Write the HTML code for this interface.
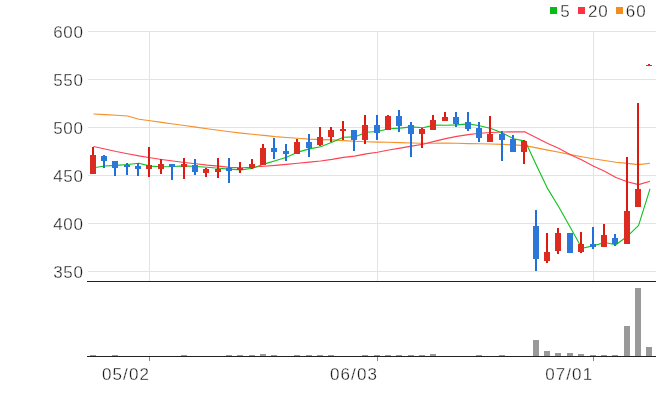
<!DOCTYPE html>
<html><head><meta charset="utf-8"><title>chart</title>
<style>
html,body{margin:0;padding:0;background:#fff}
body{width:658px;height:408px;overflow:hidden}
svg{display:block}
text{font-family:"Liberation Sans",sans-serif;font-size:17px;fill:#1c1c1c;stroke:#fff;stroke-width:0.3px}
</style></head><body>
<svg width="658" height="408" viewBox="0 0 658 408">
<rect width="658" height="408" fill="#fff"/>
<g shape-rendering="crispEdges" fill="#e0e4e9">
<rect x="88" y="31" width="568" height="1"/>
<rect x="88" y="79" width="568" height="1"/>
<rect x="88" y="127" width="568" height="1"/>
<rect x="88" y="175" width="568" height="1"/>
<rect x="88" y="223" width="568" height="1"/>
<rect x="88" y="271" width="568" height="1"/>
<rect x="149" y="31" width="1" height="250"/>
<rect x="377" y="31" width="1" height="250"/>
<rect x="593" y="31" width="1" height="250"/>
</g>
<polyline fill="none" stroke="#f5902a" stroke-width="1.1" stroke-linejoin="round" points="93.5,114.0 104.9,114.6 116.2,115.3 127.6,116.0 138.9,119.2 150.3,120.8 161.6,122.4 173.0,124.0 184.4,125.5 195.7,127.1 207.1,128.7 218.4,130.3 229.8,131.7 241.1,133.1 252.5,134.3 263.9,135.4 275.2,136.6 286.6,137.5 297.9,138.3 309.3,139.1 320.6,139.6 332.0,139.9 343.4,140.6 354.7,141.2 366.1,141.7 377.4,142.1 388.8,142.3 400.1,142.6 411.5,143.0 422.9,143.3 434.2,143.2 445.6,143.1 456.9,143.2 468.3,143.6 479.6,143.8 491.0,144.0 502.4,144.4 513.7,144.9 525.1,145.6 536.4,147.9 547.8,150.1 559.1,152.3 570.5,154.6 581.9,156.7 593.2,158.8 604.6,160.5 615.9,162.2 627.3,163.4 638.6,164.6 650.0,163.2"/>
<polyline fill="none" stroke="#ff4052" stroke-width="1.1" stroke-linejoin="round" points="93.5,146.5 104.9,149.0 116.2,151.5 127.6,153.7 138.9,155.9 150.3,157.8 161.6,159.5 173.0,161.0 184.4,162.5 195.7,163.8 207.1,165.1 218.4,166.1 229.8,167.4 241.1,167.7 252.5,167.2 263.9,166.2 275.2,165.4 286.6,164.4 297.9,163.2 309.3,162.1 320.6,161.0 332.0,159.4 343.4,157.4 354.7,156.1 366.1,153.9 377.4,152.2 388.8,150.0 400.1,148.1 411.5,146.1 422.9,144.3 434.2,141.4 445.6,138.6 456.9,136.4 468.3,134.6 479.6,133.3 491.0,132.5 502.4,132.0 513.7,131.8 525.1,131.9 536.4,137.7 547.8,143.4 559.1,148.6 570.5,154.8 581.9,159.9 593.2,166.1 604.6,171.2 615.9,177.6 627.3,181.8 638.6,184.6 650.0,181.3"/>
<polyline fill="none" stroke="#0cc21c" stroke-width="1.1" stroke-linejoin="round" points="93.5,167.8 104.9,166.0 116.2,165.4 127.6,164.5 138.9,163.3 150.3,166.1 161.6,166.7 173.0,166.5 184.4,165.9 195.7,166.5 207.1,167.3 218.4,168.3 229.8,169.1 241.1,169.9 252.5,168.3 263.9,164.1 275.2,160.7 286.6,157.3 297.9,152.1 309.3,148.9 320.6,146.7 332.0,142.3 343.4,137.3 354.7,136.9 366.1,132.3 377.4,131.5 388.8,128.7 400.1,128.1 411.5,126.9 422.9,127.7 434.2,125.1 445.6,125.3 456.9,124.9 468.3,123.9 479.6,125.7 491.0,128.5 502.4,133.1 513.7,138.7 525.1,141.1 536.4,165.3 547.8,188.9 559.1,207.5 570.5,227.7 581.9,248.3 593.2,245.9 604.6,242.5 615.9,244.7 627.3,236.3 638.6,225.3 650.0,188.9"/>
<g shape-rendering="crispEdges">
<rect x="92" y="147" width="2" height="27" fill="#de1a10"/><rect x="90" y="155" width="6" height="19" fill="#dc2c22"/>
<rect x="103" y="155" width="2" height="13" fill="#2070dc"/><rect x="101" y="156" width="6" height="5" fill="#2c78d8"/>
<rect x="114" y="161" width="2" height="15" fill="#2070dc"/><rect x="112" y="161" width="6" height="7" fill="#2c78d8"/>
<rect x="126" y="163" width="2" height="12" fill="#2070dc"/><rect x="124" y="165" width="6" height="2" fill="#2c78d8"/>
<rect x="137" y="163" width="2" height="13" fill="#2070dc"/><rect x="135" y="166" width="6" height="3" fill="#2c78d8"/>
<rect x="148" y="147" width="2" height="30" fill="#de1a10"/><rect x="146" y="165" width="6" height="4" fill="#dc2c22"/>
<rect x="160" y="159" width="2" height="15" fill="#de1a10"/><rect x="158" y="164" width="6" height="5" fill="#dc2c22"/>
<rect x="171" y="164" width="2" height="16" fill="#2070dc"/><rect x="169" y="164" width="6" height="3" fill="#2c78d8"/>
<rect x="183" y="158" width="2" height="21" fill="#de1a10"/><rect x="181" y="164" width="6" height="3" fill="#dc2c22"/>
<rect x="194" y="159" width="2" height="16" fill="#2070dc"/><rect x="192" y="165" width="6" height="7" fill="#2c78d8"/>
<rect x="205" y="168" width="2" height="9" fill="#de1a10"/><rect x="203" y="169" width="6" height="4" fill="#dc2c22"/>
<rect x="217" y="158" width="2" height="20" fill="#de1a10"/><rect x="215" y="169" width="6" height="3" fill="#dc2c22"/>
<rect x="228" y="158" width="2" height="25" fill="#2070dc"/><rect x="226" y="168" width="6" height="3" fill="#2c78d8"/>
<rect x="239" y="162" width="2" height="11" fill="#de1a10"/><rect x="237" y="168" width="6" height="2" fill="#dc2c22"/>
<rect x="251" y="159" width="2" height="10" fill="#de1a10"/><rect x="249" y="164" width="6" height="4" fill="#dc2c22"/>
<rect x="262" y="144" width="2" height="21" fill="#de1a10"/><rect x="260" y="148" width="6" height="17" fill="#dc2c22"/>
<rect x="273" y="138" width="2" height="21" fill="#2070dc"/><rect x="271" y="148" width="6" height="4" fill="#2c78d8"/>
<rect x="285" y="144" width="2" height="17" fill="#2070dc"/><rect x="283" y="151" width="6" height="3" fill="#2c78d8"/>
<rect x="296" y="139" width="2" height="15" fill="#de1a10"/><rect x="294" y="142" width="6" height="12" fill="#dc2c22"/>
<rect x="308" y="134" width="2" height="23" fill="#2070dc"/><rect x="306" y="142" width="6" height="6" fill="#2c78d8"/>
<rect x="319" y="127" width="2" height="19" fill="#de1a10"/><rect x="317" y="137" width="6" height="8" fill="#dc2c22"/>
<rect x="330" y="127" width="2" height="15" fill="#de1a10"/><rect x="328" y="130" width="6" height="7" fill="#dc2c22"/>
<rect x="342" y="121" width="2" height="19" fill="#de1a10"/><rect x="340" y="129" width="6" height="2" fill="#dc2c22"/>
<rect x="353" y="130" width="2" height="21" fill="#2070dc"/><rect x="351" y="130" width="6" height="10" fill="#2c78d8"/>
<rect x="364" y="115" width="2" height="29" fill="#de1a10"/><rect x="362" y="125" width="6" height="15" fill="#dc2c22"/>
<rect x="376" y="115" width="2" height="25" fill="#2070dc"/><rect x="374" y="125" width="6" height="8" fill="#2c78d8"/>
<rect x="387" y="115" width="2" height="15" fill="#de1a10"/><rect x="385" y="116" width="6" height="14" fill="#dc2c22"/>
<rect x="398" y="110" width="2" height="22" fill="#2070dc"/><rect x="396" y="116" width="6" height="10" fill="#2c78d8"/>
<rect x="410" y="122" width="2" height="35" fill="#2070dc"/><rect x="408" y="125" width="6" height="9" fill="#2c78d8"/>
<rect x="421" y="128" width="2" height="20" fill="#de1a10"/><rect x="419" y="129" width="6" height="5" fill="#dc2c22"/>
<rect x="432" y="115" width="2" height="15" fill="#de1a10"/><rect x="430" y="120" width="6" height="10" fill="#dc2c22"/>
<rect x="444" y="112" width="2" height="9" fill="#de1a10"/><rect x="442" y="117" width="6" height="4" fill="#dc2c22"/>
<rect x="455" y="112" width="2" height="15" fill="#2070dc"/><rect x="453" y="117" width="6" height="7" fill="#2c78d8"/>
<rect x="467" y="112" width="2" height="19" fill="#2070dc"/><rect x="465" y="122" width="6" height="7" fill="#2c78d8"/>
<rect x="478" y="122" width="2" height="20" fill="#2070dc"/><rect x="476" y="128" width="6" height="10" fill="#2c78d8"/>
<rect x="489" y="116" width="2" height="26" fill="#de1a10"/><rect x="487" y="134" width="6" height="8" fill="#dc2c22"/>
<rect x="501" y="131" width="2" height="30" fill="#2070dc"/><rect x="499" y="134" width="6" height="6" fill="#2c78d8"/>
<rect x="512" y="135" width="2" height="17" fill="#2070dc"/><rect x="510" y="139" width="6" height="13" fill="#2c78d8"/>
<rect x="523" y="140" width="2" height="24" fill="#de1a10"/><rect x="521" y="141" width="6" height="11" fill="#dc2c22"/>
<rect x="535" y="210" width="2" height="61" fill="#2070dc"/><rect x="533" y="226" width="6" height="33" fill="#2c78d8"/>
<rect x="546" y="233" width="2" height="30" fill="#de1a10"/><rect x="544" y="252" width="6" height="9" fill="#dc2c22"/>
<rect x="557" y="228" width="2" height="26" fill="#de1a10"/><rect x="555" y="233" width="6" height="18" fill="#dc2c22"/>
<rect x="569" y="233" width="2" height="20" fill="#2070dc"/><rect x="567" y="233" width="6" height="20" fill="#2c78d8"/>
<rect x="580" y="232" width="2" height="21" fill="#de1a10"/><rect x="578" y="244" width="6" height="8" fill="#dc2c22"/>
<rect x="592" y="227" width="2" height="22" fill="#2070dc"/><rect x="590" y="244" width="6" height="3" fill="#2c78d8"/>
<rect x="603" y="224" width="2" height="23" fill="#de1a10"/><rect x="601" y="235" width="6" height="12" fill="#dc2c22"/>
<rect x="614" y="234" width="2" height="12" fill="#2070dc"/><rect x="612" y="238" width="6" height="6" fill="#2c78d8"/>
<rect x="626" y="157" width="2" height="87" fill="#de1a10"/><rect x="624" y="211" width="6" height="33" fill="#dc2c22"/>
<rect x="637" y="103" width="2" height="104" fill="#de1a10"/><rect x="635" y="189" width="6" height="18" fill="#dc2c22"/>
<rect x="648" y="64" width="2" height="2" fill="#de1a10"/><rect x="646" y="65" width="6" height="1" fill="#dc2c22"/>
</g>
<g shape-rendering="crispEdges" fill="#999">
<rect x="90" y="355" width="6" height="1"/>
<rect x="112" y="355" width="6" height="1"/>
<rect x="181" y="355" width="6" height="1"/>
<rect x="226" y="355" width="6" height="1"/>
<rect x="237" y="355" width="6" height="1"/>
<rect x="249" y="355" width="6" height="1"/>
<rect x="260" y="354" width="6" height="2"/>
<rect x="271" y="355" width="6" height="1"/>
<rect x="294" y="355" width="6" height="1"/>
<rect x="306" y="355" width="6" height="1"/>
<rect x="317" y="355" width="6" height="1"/>
<rect x="328" y="355" width="6" height="1"/>
<rect x="362" y="355" width="6" height="1"/>
<rect x="374" y="355" width="6" height="1"/>
<rect x="385" y="355" width="6" height="1"/>
<rect x="396" y="355" width="6" height="1"/>
<rect x="408" y="355" width="6" height="1"/>
<rect x="419" y="355" width="6" height="1"/>
<rect x="430" y="354" width="6" height="2"/>
<rect x="476" y="355" width="6" height="1"/>
<rect x="499" y="355" width="6" height="1"/>
<rect x="533" y="340" width="6" height="16"/>
<rect x="544" y="351" width="6" height="5"/>
<rect x="555" y="353" width="6" height="3"/>
<rect x="567" y="353" width="6" height="3"/>
<rect x="578" y="354" width="6" height="2"/>
<rect x="590" y="355" width="6" height="1"/>
<rect x="601" y="355" width="6" height="1"/>
<rect x="612" y="355" width="6" height="1"/>
<rect x="624" y="326" width="6" height="30"/>
<rect x="635" y="288" width="6" height="68"/>
<rect x="646" y="347" width="6" height="9"/>
</g>
<g shape-rendering="crispEdges"><rect x="87" y="281" width="569" height="1" fill="#222"/><rect x="87" y="356" width="569" height="1" fill="#222"/>
<rect x="149" y="357" width="1" height="4" fill="#888"/>
<rect x="377" y="357" width="1" height="4" fill="#888"/>
<rect x="593" y="357" width="1" height="4" fill="#888"/>
</g>
<text x="53.2" y="38.2" style="letter-spacing:0.7px">600</text>
<text x="53.2" y="86.2" style="letter-spacing:0.7px">550</text>
<text x="53.2" y="134.2" style="letter-spacing:0.7px">500</text>
<text x="53.2" y="182.2" style="letter-spacing:0.7px">450</text>
<text x="53.2" y="230.2" style="letter-spacing:0.7px">400</text>
<text x="53.2" y="278.2" style="letter-spacing:0.7px">350</text>
<text x="102.0" y="380" style="font-size:17px;letter-spacing:1.1px">05/02</text>
<text x="330.0" y="380" style="font-size:17px;letter-spacing:1.1px">06/03</text>
<text x="545.2" y="380" style="font-size:17px;letter-spacing:1.1px">07/01</text>
<rect x="550" y="7" width="7" height="7" fill="#05bd14" shape-rendering="crispEdges"/><text x="560.2" y="17">5</text>
<rect x="578" y="7" width="7" height="7" fill="#ff3340" shape-rendering="crispEdges"/><text x="588" y="17" style="letter-spacing:0.9px">20</text>
<rect x="616" y="7" width="7" height="7" fill="#f58c1e" shape-rendering="crispEdges"/><text x="625.8" y="17" style="letter-spacing:0.9px">60</text>
</svg>
</body></html>
